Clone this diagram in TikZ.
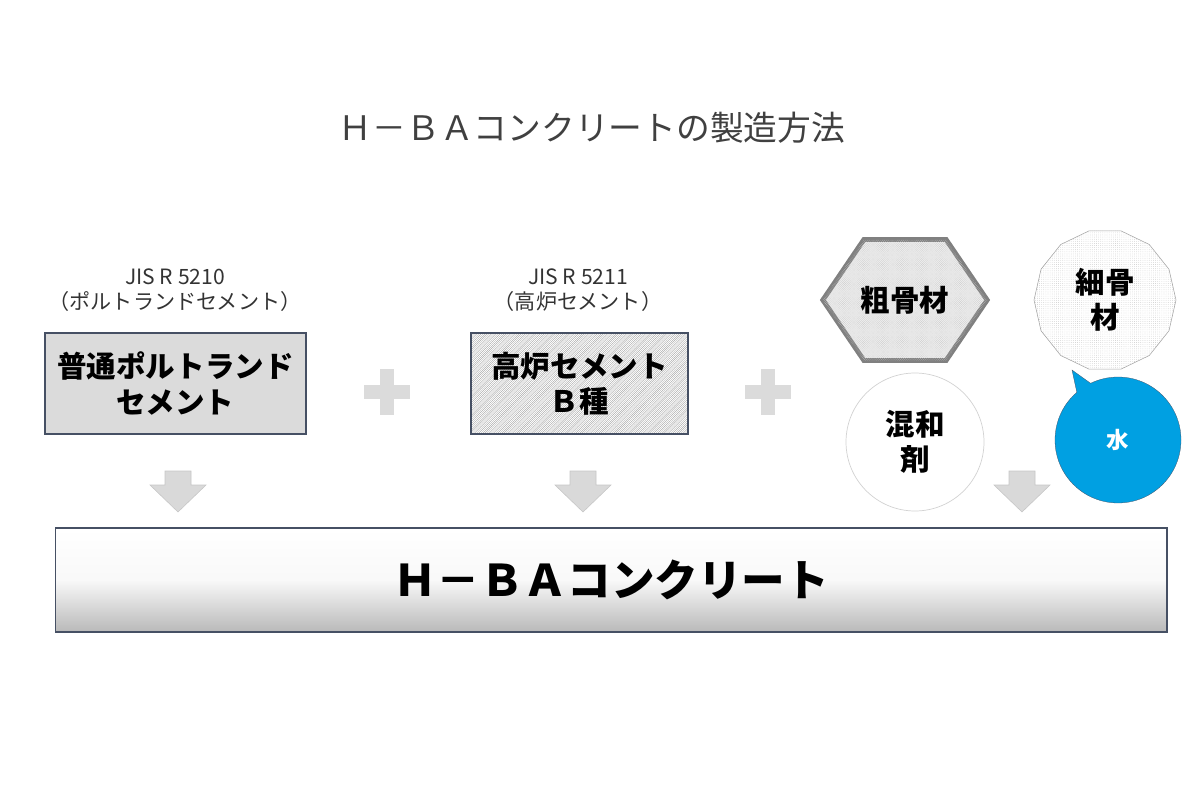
\documentclass[tikz,border=0pt]{standalone}
\usepackage{fontspec}
\setmainfont{Noto Sans CJK JP}
\usepackage{tikz}
\usetikzlibrary{shapes,shapes.geometric,shapes.callouts,patterns,positioning}
\definecolor{edgeblue}{RGB}{70,80,100}
\definecolor{waterblue}{RGB}{0,160,226}
\newcommand{\fs}[1]{\fontsize{#1}{1.2\dimexpr#1\relax}\selectfont}
\begin{document}
\begin{tikzpicture}[x=0.05cm,y=-0.05cm]
\tikzstyle{every node} = [font=\fs{42pt}\bfseries, align=center, inner sep=0pt]
\tikzstyle{cement} = [rectangle, draw=edgeblue, line width=1.5pt, minimum height=5.05cm]
\tikzstyle{jis} = [font=\fs{30pt}, text=black!80]
\tikzstyle{down} = [fill=gray!30, draw=gray!45, line width=0.8pt]
\useasboundingbox (0,0) rectangle (1200,798);
\node[font=\fs{48pt}, text=black!75] (title) at (592,128) {Ｈ－ＢＡコンクリートの製造方法};
% cements
\node[jis] (jisA) at (175,290) {JIS R 5210\\（ポルトランドセメント）};
\node[cement, fill=gray!28, minimum width=13.05cm] (opc) at (175.5,383.5) {普通ポルトランド\\セメント};
\node[jis] (jisB) at (578,290) {JIS R 5211\\（高炉セメント）};
\node[cement, pattern=north east lines, pattern color=gray!80, minimum width=10.85cm] (bfc) at (579.5,383.5) {};
\node (bfctext) at (bfc) {高炉セメント\\Ｂ種};
% plus signs
\foreach \n/\x in {plusA/387, plusB/768}{
  \fill[gray!28] (\x-23,392-7) rectangle (\x+23,392+7);
  \fill[gray!28] (\x-7,392-23) rectangle (\x+7,392+23);
  \coordinate (\n) at (\x,392);
}
% aggregates and admixtures
\node[regular polygon, regular polygon sides=6, minimum width=8.2cm, yscale=0.85] (coarse) at (905,300) {};
\filldraw[draw=gray, line width=7pt, line join=miter, fill=gray!15] (coarse.corner 1) -- (coarse.corner 2) -- (coarse.corner 3) -- (coarse.corner 4) -- (coarse.corner 5) -- (coarse.corner 6) -- cycle;
\fill[pattern=crosshatch dots, pattern color=gray!45] (coarse.corner 1) -- (coarse.corner 2) -- (coarse.corner 3) -- (coarse.corner 4) -- (coarse.corner 5) -- (coarse.corner 6) -- cycle;
\node (coarsetext) at (905,300) {粗骨材};
\node[regular polygon, regular polygon sides=14, draw=gray!70, line width=0.8pt, pattern=dots, pattern color=gray!50, minimum size=7.1cm] (fine) at (1105,300) {};
\node (finetext) at (1105,300) {細骨\\材};
\node[circle, draw=gray!35, line width=1pt, minimum size=6.9cm] (admix) at (915,442) {混和\\剤};
\node[ellipse callout, draw=edgeblue, fill=waterblue, minimum width=6.3cm, minimum height=6.3cm, callout absolute pointer={(1072,370)}, text=white, font=\fs{32pt}\bfseries] (water) at (1118,440) {水};
% arrows
\foreach \n/\x in {downA/178, downB/583, downC/1022}{
  \draw[down] (\x-13,471) -- (\x+13,471) -- (\x+13,485) -- (\x+28,485) -- (\x,512) -- (\x-28,485) -- (\x-13,485) -- cycle;
  \coordinate (\n) at (\x,512);
}
% product
\node[rectangle, draw=edgeblue, line width=1.5pt, top color=white, bottom color=gray!55, middle color=gray!5, minimum width=55.6cm, minimum height=5.2cm, font=\fs{62pt}\bfseries] (hba) at (611,580) {Ｈ－ＢＡコンクリート};
\end{tikzpicture}
\end{document}
